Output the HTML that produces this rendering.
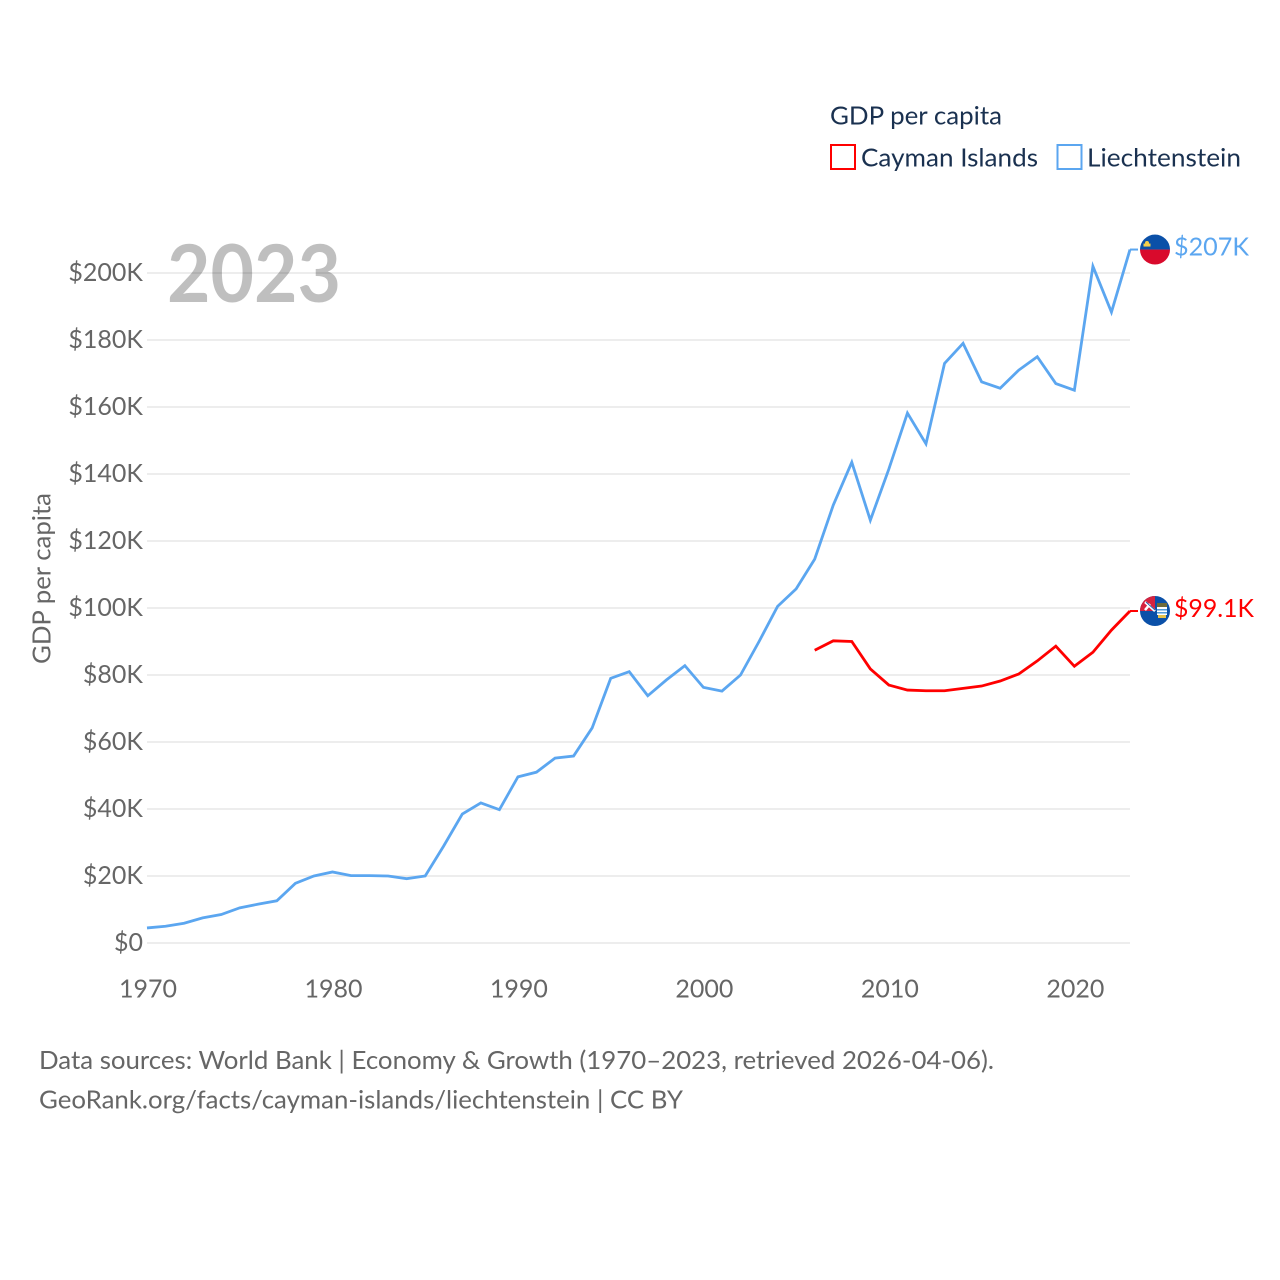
<!DOCTYPE html>
<html lang="en">
<head>
<meta charset="utf-8">
<title>GDP per capita: Cayman Islands and Liechtenstein</title>
<style>
html,body{margin:0;padding:0;background:#fff;width:1280px;height:1280px;overflow:hidden}
svg{display:block}
text{font-family:"Lato","Carlito","Liberation Sans",sans-serif}
</style>
</head>
<body>
<svg id="chart" width="1280" height="1280" viewBox="0 0 1280 1280" xmlns="http://www.w3.org/2000/svg">
  <g id="grid"></g>
  <text x="167" y="302" font-size="80" font-weight="700" fill="#000000" fill-opacity="0.25" textLength="174" lengthAdjust="spacingAndGlyphs">2023</text>
  <g id="y-ticks"></g>
  <g id="x-ticks"></g>
  <text transform="translate(50.500,664) rotate(-90)" font-size="25.5" fill="#666666" textLength="171" lengthAdjust="spacingAndGlyphs">GDP per capita</text>
  <g id="series"></g>

  <g>
    <text x="830" y="124.500" font-size="25.5" fill="#1a3150" textLength="172" lengthAdjust="spacingAndGlyphs">GDP per capita</text>
    <rect x="831" y="145" width="24" height="24" fill="none" stroke="#ff0000" stroke-width="2"/>
    <text x="861" y="166.500" font-size="25.5" fill="#1a3150" textLength="177" lengthAdjust="spacingAndGlyphs">Cayman Islands</text>
    <rect x="1057.500" y="145" width="24" height="24" fill="none" stroke="#5ba6f0" stroke-width="2"/>
    <text x="1087" y="166.500" font-size="25.5" fill="#1a3150" textLength="154" lengthAdjust="spacingAndGlyphs">Liechtenstein</text>
  </g>

  <text x="39" y="1069" font-size="25.5" fill="#666666" textLength="955" lengthAdjust="spacingAndGlyphs">Data sources: World Bank | Economy &amp; Growth (1970–2023, retrieved 2026-04-06).</text>
  <text x="39" y="1108.500" font-size="25.5" fill="#666666" textLength="644" lengthAdjust="spacingAndGlyphs">GeoRank.org/facts/cayman-islands/liechtenstein | CC BY</text>
</svg>
<script>
const yTickValues = [0, 20, 40, 60, 80, 100, 120, 140, 160, 180, 200];
const yTickLabels = ["$0", "$20K", "$40K", "$60K", "$80K", "$100K", "$120K", "$140K", "$160K", "$180K", "$200K"];
const xTickValues = [1970, 1980, 1990, 2000, 2010, 2020];
const xTickLabels = ["1970", "1980", "1990", "2000", "2010", "2020"];
const liechtensteinStartYear = 1970;
const liechtensteinValues = [4.5, 5, 5.9, 7.5, 8.5, 10.5, 11.6, 12.6, 17.8, 20, 21.2, 20.1, 20.1, 20, 19.2, 20, 29, 38.5, 41.8, 39.8, 49.6, 51, 55.2, 55.8, 64.2, 79, 81, 73.8, 78.5, 82.8, 76.3, 75.2, 80, 90, 100.5, 105.7, 114.6, 130.7, 143.5, 126.2, 141.5, 158.2, 149, 173, 179, 167.5, 165.6, 171, 175, 167, 165, 202, 188.3, 207];
const caymanStartYear = 2006;
const caymanValues = [87.4, 90.2, 90, 81.8, 77, 75.5, 75.3, 75.3, 76, 76.7, 78.2, 80.3, 84.2, 88.6, 82.6, 86.8, 93.4, 99.1];
const liechtensteinEndLabel = "$207K";
const caymanEndLabel = "$99.1K";

const NS = "http://www.w3.org/2000/svg";
const xScale = year => 147 + (year - 1970) * (1130 - 147) / 53;
const yScale = value => 943 - value * 3.35;
const LAST_X = xScale(2023);

function make(parent, tag, attrs, text) {
  const el = document.createElementNS(NS, tag);
  for (const k in attrs) el.setAttribute(k, attrs[k]);
  if (text !== undefined) el.textContent = text;
  parent.appendChild(el);
  return el;
}

const grid = document.getElementById("grid");
const yTicks = document.getElementById("y-ticks");
yTickValues.forEach((v, i) => {
  const line = make(grid, "line", {x1: 147, x2: LAST_X, y1: yScale(v), y2: yScale(v), stroke: "#ededed", "stroke-width": 2});
  
  
  const label = make(yTicks, "text", {x: 143, y: yScale(v) + 8, "text-anchor": "end", "font-size": 25, fill: "#666666"}, yTickLabels[i]);
  
  
});

const xTicks = document.getElementById("x-ticks");
xTickValues.forEach((v, i) => {
  const label = make(xTicks, "text", {x: xScale(v) + 1, y: 997.5, "text-anchor": "middle", "font-size": 25, fill: "#666666"}, xTickLabels[i]);
  
  
});

function seriesPoints(startYear, values) {
  return values.map((v, i) => xScale(startYear + i).toFixed(2) + "," + yScale(v).toFixed(2));
}

const seriesGroup = document.getElementById("series");

const blueLine = make(seriesGroup, "polyline", {points: seriesPoints(liechtensteinStartYear, liechtensteinValues).join(" "), fill: "none", stroke: "#5ba6f0", "stroke-width": 2.8, "stroke-linejoin": "miter"});



const redLine = make(seriesGroup, "polyline", {points: seriesPoints(caymanStartYear, caymanValues).join(" "), fill: "none", stroke: "#ff0000", "stroke-width": 2.8, "stroke-linejoin": "miter"});



const blueY = yScale(liechtensteinValues[liechtensteinValues.length - 1]);
const redY = yScale(caymanValues[caymanValues.length - 1]);

const blueConnector = make(seriesGroup, "line", {x1: LAST_X, x2: 1138, y1: blueY, y2: blueY, stroke: "#5ba6f0", "stroke-width": 2});



const redConnector = make(seriesGroup, "line", {x1: LAST_X, x2: 1138, y1: redY, y2: redY, stroke: "#ff0000", "stroke-width": 2});



const defs = make(seriesGroup, "defs", {});
const clipA = make(defs, "clipPath", {id: "clip-li"});
make(clipA, "circle", {cx: 1155, cy: blueY, r: 15});
const clipB = make(defs, "clipPath", {id: "clip-ky"});
make(clipB, "circle", {cx: 1155, cy: redY, r: 15});

const liFlag = make(seriesGroup, "g", {"clip-path": "url(#clip-li)"});


make(liFlag, "rect", {x: 1140, y: blueY - 15, width: 30, height: 15, fill: "#0b50a8"});
make(liFlag, "rect", {x: 1140, y: blueY, width: 30, height: 15, fill: "#d90a2c"});
make(liFlag, "rect", {x: 1143.500, y: blueY - 6, width: 7, height: 3, fill: "#f6cf4a"});
make(liFlag, "circle", {cx: 1147, cy: blueY - 6.500, r: 2, fill: "#f6cf4a"});

const kyFlag = make(seriesGroup, "g", {"clip-path": "url(#clip-ky)"});


make(kyFlag, "rect", {x: 1140, y: redY - 15, width: 30, height: 30, fill: "#0b50a8"});
make(kyFlag, "rect", {x: 1140, y: redY - 15, width: 15, height: 15, fill: "#d5233f"});
make(kyFlag, "path", {d: "M1145 " + (redY - 9) + "L1155 " + redY + "M1145 " + (redY - 1) + "L1150 " + (redY - 7), stroke: "#ffffff", "stroke-width": 2.500, fill: "none"});
make(kyFlag, "path", {d: "M1146 " + (redY - 9) + "L1155 " + (redY - 1), stroke: "#0b50a8", "stroke-width": 0.800, fill: "none"});
make(kyFlag, "rect", {x: 1157, y: redY - 8, width: 10, height: 4, fill: "#6d6a3a"});
make(kyFlag, "rect", {x: 1157, y: redY - 4, width: 10, height: 8, fill: "#ffffff"});
make(kyFlag, "rect", {x: 1157, y: redY - 2, width: 10, height: 1.500, fill: "#4f9ad8"});
make(kyFlag, "rect", {x: 1157, y: redY + 1, width: 10, height: 1.500, fill: "#4f9ad8"});
make(kyFlag, "rect", {x: 1158, y: redY + 4, width: 8, height: 3, fill: "#e8c24a"});

const blueLabel = make(seriesGroup, "text", {x: 1174, y: blueY + 6, "font-size": 25.5, fill: "#5ba6f0", textLength: 75, lengthAdjust: "spacingAndGlyphs"}, liechtensteinEndLabel);



const redLabel = make(seriesGroup, "text", {x: 1174, y: redY + 6, "font-size": 25.5, fill: "#ff0000", textLength: 80, lengthAdjust: "spacingAndGlyphs"}, caymanEndLabel);


</script>
</body>
</html>
